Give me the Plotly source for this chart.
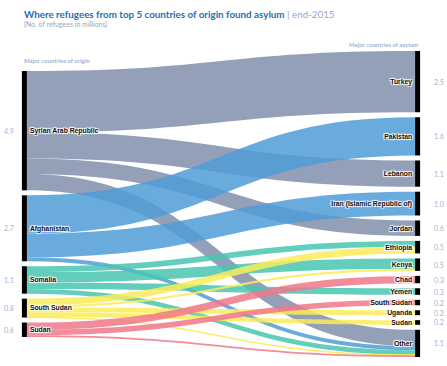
import plotly.graph_objects as go

# ---- data ----
origins = ["Syrian Arab Republic", "Afghanistan", "Somalia", "South Sudan", "Sudan"]
asylum = ["Turkey", "Pakistan", "Lebanon", "Iran (Islamic Republic of)", "Jordan",
          "Ethiopia", "Kenya", "Chad", "Yemen", "South Sudan", "Uganda", "Sudan", "Other"]
link_source = ["Syrian Arab Republic"] * 4 + ["Afghanistan"] * 3 + ["Somalia"] * 4 + ["South Sudan"] * 5 + ["Sudan"] * 3
link_target = ["Turkey", "Lebanon", "Jordan", "Other",
               "Pakistan", "Iran (Islamic Republic of)", "Other",
               "Kenya", "Yemen", "Ethiopia", "Other",
               "Ethiopia", "Uganda", "Sudan", "Kenya", "Other",
               "Chad", "South Sudan", "Other"]
link_value = [2.50, 1.07, 0.63, 0.67,
              1.56, 0.97, 0.16,
              0.42, 0.27, 0.24, 0.19,
              0.27, 0.20, 0.19, 0.09, 0.02,
              0.30, 0.22, 0.07]
origin_colors = {"Syrian Arab Republic": "rgba(128,143,172,0.85)",
                 "Afghanistan": "rgba(80,156,215,0.85)",
                 "Somalia": "rgba(72,198,176,0.85)",
                 "South Sudan": "rgba(250,236,90,0.85)",
                 "Sudan": "rgba(240,120,138,0.85)"}

W, HT = 447, 366
dom_x = [24 / W, 418 / W]
top_px, bot_px = 51, 357
dom_y = [1 - bot_px / HT, 1 - top_px / HT]
pad = 5
H = bot_px - top_px

n_o = len(origins)
idx_o = {o: i for i, o in enumerate(origins)}
idx_a = {a: n_o + i for i, a in enumerate(asylum)}
src = [idx_o[s] for s in link_source]
tgt = [idx_a[t] for t in link_target]

# node totals
o_tot = [sum(v for s, v in zip(link_source, link_value) if s == o) for o in origins]
a_tot = [sum(v for t, v in zip(link_target, link_value) if t == a) for a in asylum]
ky = min((H - (len(asylum) - 1) * pad) / sum(a_tot), (H - (len(origins) - 1) * pad) / sum(o_tot))

def centers(tots):
    span = sum(tots) * ky + (len(tots) - 1) * pad
    y = (H - span) / 2
    out = []
    for v in tots:
        out.append(y + v * ky / 2)
        y += v * ky + pad
    return out

o_c = centers(o_tot)
a_c = centers(a_tot)
node_x = [0.001] * n_o + [0.999] * len(asylum)
node_y = [c / H for c in o_c] + [c / H for c in a_c]

fig = go.Figure(go.Sankey(
    arrangement="fixed",
    domain=dict(x=dom_x, y=dom_y),
    node=dict(label=origins + asylum, x=node_x, y=node_y, pad=pad, thickness=5,
              color="black", line=dict(width=0)),
    link=dict(source=src, target=tgt, value=link_value,
              color=[origin_colors[s] for s in link_source]),
    textfont=dict(family="Liberation Sans", size=6.8, color="#111", weight="bold"),
    hoverinfo="none",
))

ann = []
vcol = "#9db5d8"
for v, c in zip(o_tot, o_c):
    ann.append(dict(x=16 / W, y=1 - (top_px + c) / HT, xref="paper", yref="paper",
                    text=f"{v:.1f}", showarrow=False, xanchor="right", yanchor="middle",
                    font=dict(family="Lato", size=7, color=vcol)))
for v, c in zip(a_tot, a_c):
    ann.append(dict(x=432 / W, y=1 - (top_px + c) / HT, xref="paper", yref="paper",
                    text=f"{v:.1f}", showarrow=False, xanchor="left", yanchor="middle",
                    font=dict(family="Lato", size=7, color=vcol)))
ann.append(dict(x=22 / W, y=1 - 14 / HT, xref="paper", yref="paper", showarrow=False,
                xanchor="left", yanchor="middle",
                text="<b>Where refugees from top 5 countries of origin found asylum</b>"
                     "<span style='color:#8fa9cf'> | end-2015</span>",
                font=dict(family="Lato", size=9.8, color="#2a6cb2")))
ann.append(dict(x=22 / W, y=1 - 25 / HT, xref="paper", yref="paper", showarrow=False,
                xanchor="left", yanchor="middle", text="(No. of refugees in millions)",
                font=dict(family="Lato", size=7, color="#9aa6b8")))
ann.append(dict(x=22 / W, y=1 - 61 / HT, xref="paper", yref="paper", showarrow=False,
                xanchor="left", yanchor="middle", text="<b>Major countries of origin</b>",
                font=dict(family="Lato", size=6, color=vcol)))
ann.append(dict(x=420 / W, y=1 - 44 / HT, xref="paper", yref="paper", showarrow=False,
                xanchor="right", yanchor="middle", text="<b>Major countries of asylum</b>",
                font=dict(family="Lato", size=6, color=vcol)))

fig.update_layout(width=W, height=HT, margin=dict(l=0, r=0, t=0, b=0),
                  paper_bgcolor="white", plot_bgcolor="white", annotations=ann)
fig.write_html("out.html", config={"displayModeBar": False},
               post_script="document.body.style.margin='0';document.body.style.overflow='hidden';")
